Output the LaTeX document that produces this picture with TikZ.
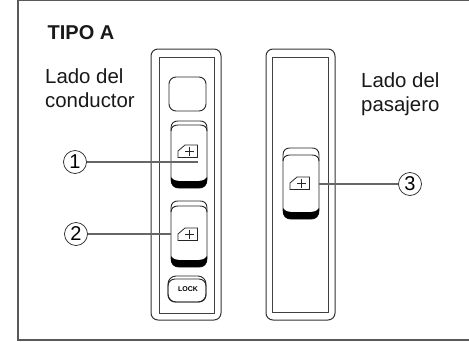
\documentclass[tikz,border=0pt]{standalone}
\usepackage{fontspec}
\setmainfont{Liberation Sans}
\tikzset{
 x=1pt,y=-1pt,
 frame/.style={draw=black!65,line width=1.3pt},
 panel/.style={draw=black!80,line width=1pt,rounded corners=7pt},
 inner/.style={draw=black!75,line width=1pt},
 btn/.style={draw=black!85,line width=.9pt},
 lead/.style={draw=black!60,line width=1.2pt},
 num/.style={circle,draw=black!85,fill=white,line width=.7pt,inner sep=0pt,minimum size=23pt,font=\fontsize{20}{20}\selectfont},
 lab/.style={font=\fontsize{20.4}{24}\selectfont,align=left,inner sep=0pt,text=black!90},
}
% #1 x, #2 y, #3 height, #4 icon top offset, #5 inner-top offset
\newcommand{\winbtn}[5]{%
 \begin{scope}[shift={(#1,#2)}]
 \draw[btn,fill=white] (0,7) .. controls (0,2) and (3,0) .. (7,0) -- (29,0) .. controls (33,0) and (36,2) .. (36,7) -- ++(0,#3-16) .. controls (36,#3-3) and (33,#3) .. (28,#3) -- (8,#3) .. controls (3,#3) and (0,#3-3) .. (0,#3-9) -- cycle;
 \draw[btn] (0,#5+6) .. controls (0,#5+2) and (3,#5) .. (7,#5) -- (29,#5) .. controls (33,#5) and (36,#5+2) .. (36,#5+6);
 \fill[black] (0,#3-11) .. controls (2,#3-8) and (5,#3-7) .. (8,#3-7) -- (28,#3-7) .. controls (31,#3-7) and (34,#3-8) .. (36,#3-11) -- (36,#3-8) .. controls (36,#3-3) and (33,#3) .. (28,#3) -- (8,#3) .. controls (3,#3) and (0,#3-3) .. (0,#3-8) -- cycle;
 \draw[btn,line width=.8pt] (7,#4+12.5) -- (7,#4+6) -- (14,#4) -- (26.5,#4) -- (26.5,#4+12.5) -- cycle;
 \draw[btn,line width=.7pt] (14,#4+6.5) -- (23,#4+6.5) (18.5,#4+2) -- (18.5,#4+11);
 \end{scope}}
\begin{document}
\begin{tikzpicture}
\useasboundingbox (0,0) rectangle (469,341);
\fill[white] (0,0) rectangle (469,341);
\draw[frame] (469,0.6) -- (18,0.6) -- (18,340) -- (469,340);
\node[lab,font=\bfseries\fontsize{20}{24}\selectfont,anchor=base west] (title) at (47.5,39) {TIPO A};
\node[lab,anchor=base west] (drv) at (45,107) {Lado del\\conductor};
\node[lab,anchor=base west] (pas) at (361,111) {Lado del\\pasajero};
\draw[panel] (151,49) rectangle (221,320);
\draw[inner] (159,57) rectangle (214,313);
\draw[panel] (266,49) rectangle (335,320);
\draw[inner] (272.5,57) rectangle (328,312.5);
\draw[btn,rounded corners=7pt] (169,77) rectangle (206,111);
\winbtn{171}{121}{67}{24}{4}
\winbtn{171}{201}{66}{27}{5}
\winbtn{283}{148}{71}{29}{7}
\draw[btn,rounded corners=8pt] (168,276) rectangle (206,302);
\draw[btn,rounded corners=7pt] (168,279) rectangle (206,302);
\node[font=\bfseries\fontsize{7}{7}\selectfont,inner sep=0pt] (lock) at (188,289) {LOCK};
\node[num] (n1) at (75,162) {1};
\node[num] (n2) at (76,234) {2};
\node[num] (n3) at (410,184) {3};
\coordinate (e1) at (198,162);
\coordinate (e2) at (171,234);
\coordinate (e3) at (319,184);
\draw[lead] (n1) -- (e1);
\draw[lead] (n2) -- (e2);
\draw[lead] (n3) -- (e3);
\end{tikzpicture}
\end{document}
